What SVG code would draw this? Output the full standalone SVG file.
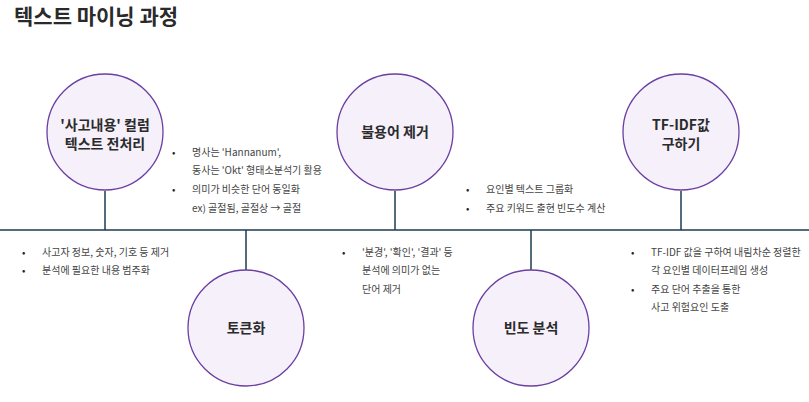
<svg xmlns="http://www.w3.org/2000/svg" width="809" height="402" viewBox="0 0 809 402">
<style>
.c{fill:#f5f0fa;stroke:#6b3fa0;stroke-width:1.3}
.l{stroke:#1c3b52;stroke-width:1.5;fill:none}
.n{font-family:"Noto Sans CJK KR","Noto Sans",sans-serif;font-weight:bold;font-size:14px;fill:#2b2b2b;text-anchor:middle}
.t{font-family:"Noto Sans CJK KR","Noto Sans",sans-serif;font-size:10px;fill:#444}
.b{font-family:"Noto Sans CJK KR",sans-serif;font-size:10px;fill:#222}
</style>
<rect width="809" height="402" fill="#fff"/>
<text x="14" y="24" font-family="'Noto Sans CJK KR',sans-serif" font-weight="bold" font-size="21" fill="#2a2a2a">텍스트 마이닝 과정</text>
<g id="connectors">
<line class="l" x1="0" y1="230" x2="809" y2="230"/>
<line class="l" x1="105" y1="191" x2="105" y2="230"/>
<line class="l" x1="395" y1="191" x2="395" y2="230"/>
<line class="l" x1="681" y1="191" x2="681" y2="230"/>
<line class="l" x1="246" y1="230" x2="246" y2="270"/>
<line class="l" x1="531" y1="230" x2="531" y2="270"/>
</g>
<g id="n1"><circle class="c" cx="105" cy="132" r="58"/><text class="n" x="105" y="130">'사고내용' 컬럼</text><text class="n" x="105" y="149">텍스트 전처리</text></g>
<g id="n2"><circle class="c" cx="395" cy="132" r="58"/><text class="n" x="395" y="137">불용어 제거</text></g>
<g id="n3"><circle class="c" cx="681" cy="132" r="58"/><text class="n" x="681" y="130">TF-IDF값</text><text class="n" x="681" y="149">구하기</text></g>
<g id="n4"><circle class="c" cx="246" cy="328" r="58"/><text class="n" x="246" y="333">토큰화</text></g>
<g id="n5"><circle class="c" cx="531" cy="328" r="58"/><text class="n" x="531" y="333">빈도 분석</text></g>
<g id="notes">
<text class="b" x="22" y="256">•</text><text class="t" x="42" y="256">사고자 정보, 숫자, 기호 등 제거</text>
<text class="b" x="22" y="274">•</text><text class="t" x="42" y="274">분석에 필요한 내용 범주화</text>
<text class="b" x="172" y="156">•</text><text class="t" x="192" y="156">명사는  'Hannanum',</text>
<text class="t" x="192" y="174">동사는 'Okt' 형태소분석기 활용</text>
<text class="b" x="172" y="193">•</text><text class="t" x="192" y="193">의미가 비슷한 단어 동일화</text>
<text class="t" x="192" y="212">ex) 골절됨, 골절상 → 골절</text>
<text class="b" x="342" y="256">•</text><text class="t" x="362" y="256">'분경', '확인', '결과' 등</text>
<text class="t" x="362" y="274">분석에 의미가 없는</text>
<text class="t" x="362" y="293">단어 제거</text>
<text class="b" x="466" y="193">•</text><text class="t" x="486" y="193">요인별 텍스트 그룹화</text>
<text class="b" x="466" y="212">•</text><text class="t" x="486" y="212">주요 키워드 출현 빈도수 계산</text>
<text class="b" x="631" y="256">•</text><text class="t" x="651" y="256">TF-IDF 값을 구하여 내림차순 정렬한</text>
<text class="t" x="651" y="274">각 요인별 데이터프레임 생성</text>
<text class="b" x="631" y="293">•</text><text class="t" x="651" y="293">주요 단어 추출을 통한</text>
<text class="t" x="651" y="311">사고 위험요인 도출</text>
</g>
</svg>
